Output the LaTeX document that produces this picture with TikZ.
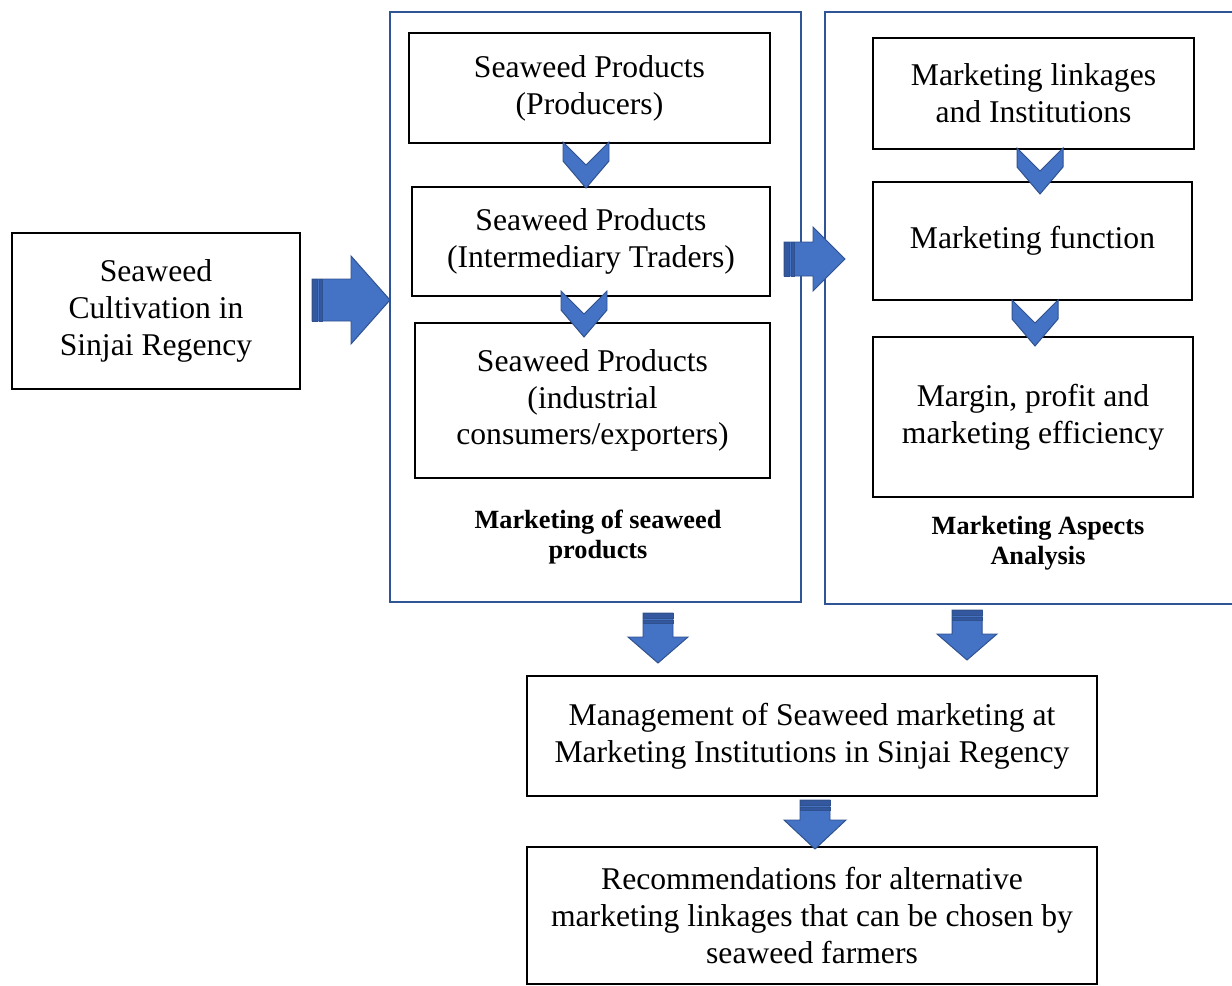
\documentclass[tikz,border=0pt]{standalone}
\usepackage{fontspec}
\setmainfont{Liberation Serif}
\usepackage{tikz}
\usetikzlibrary{positioning, calc}
\definecolor{frameblue}{HTML}{2F5597}
\definecolor{arrowfill}{HTML}{4472C4}
\definecolor{arrowline}{HTML}{2F528F}
\definecolor{stripeblue}{HTML}{3358A0}

\tikzset{
  pics/stripearrow/.style args={#1/#2/#3/#4}{code={
    \filldraw[blockarrow] (0,-#3) -- (#1,-#3) -- (#1,-#4) -- (#1+#2,0)
      -- (#1,#4) -- (#1,#3) -- (0,#3) -- cycle;
    \filldraw[stripe] (0,-#3) rectangle (5,#3);
    \filldraw[stripe] (7,-#3) rectangle (10,#3);
  }},
  pics/chevron/.style={code={
    \filldraw[blockarrow] (-23,0) -- (0,23) -- (23,0) -- (23,19)
      -- (0,46) -- (-23,19) -- cycle;
  }}
}

\begin{document}
\begin{tikzpicture}[
  x=0.025cm, y=-0.025cm,
  box/.style={draw=black, line width=1.4pt, inner sep=0pt, align=center,
              font=\fontsize{22.5}{26.2}\selectfont},
  boxsize/.style 2 args={minimum width=#1*0.025cm, minimum height=#2*0.025cm},
  frame/.style={draw=frameblue, line width=1.4pt},
  blockarrow/.style={fill=arrowfill, draw=arrowline, line width=0.7pt, line join=miter},
  stripe/.style={fill=stripeblue, draw=arrowline, line width=0.5pt},
  caption/.style={align=center, font=\fontsize{18.7}{21.3}\selectfont\bfseries},
]
  \useasboundingbox (0,0) rectangle (1232,986);
  \clip (0,0) rectangle (1232,986);

  % outer frames
  \draw[frame] (390,12) rectangle (801,602);
  \draw[frame] (825,12) rectangle (1250,604);

  % boxes
  \node[box, boxsize={288}{156}] (cult) at (156,311) {Seaweed\\Cultivation in\\Sinjai Regency};

  \node[box, boxsize={361}{110}] (prod) at (589.5,88) {Seaweed Products\\(Producers)};
  \node[box, boxsize={358}{109}] (trad) at (591,241.5) {Seaweed Products\\(Intermediary Traders)};
  \node[box, boxsize={355}{155}] (indu) at (592.5,400.5) {Seaweed Products\\(industrial\\consumers/exporters)};
  \node[caption] (mktcap) at (598,537) {Marketing of seaweed\\products};

  \node[box, boxsize={321}{111}] (link) at (1033.5,93.5) {Marketing linkages\\and Institutions};
  \node[box, boxsize={319}{118}] (func) at (1032.5,241) {Marketing function};
  \node[box, boxsize={320}{160}] (marg) at (1033,417) {Margin, profit and\\marketing efficiency};
  \node[caption] (aspcap) at (1038,543) {Marketing Aspects\\Analysis};

  \node[box, boxsize={570}{120}] (mgmt) at (812,736) {Management of Seaweed marketing at\\Marketing Institutions in Sinjai Regency};
  \node[box, boxsize={570}{137}] (reco) at (812,915.5) {Recommendations for alternative\\marketing linkages that can be chosen by\\seaweed farmers};

  % chevrons between the stacked boxes
  \pic at (586,142) {chevron};
  \pic at (584,291) {chevron};
  \pic at (1040,148) {chevron};
  \pic at (1035,300) {chevron};

  % striped block arrows
  \pic at (312,300) {stripearrow=39/39/21/44};
  \pic at (784,259) {stripearrow=29/32/17/32};
  \pic[rotate=-90] at (658,613) {stripearrow=24/26/15/30};
  \pic[rotate=-90] at (967,610) {stripearrow=24/26/15/30};
  \pic[rotate=-90] at (815,800) {stripearrow=20/29/15/31};
\end{tikzpicture}
\end{document}
